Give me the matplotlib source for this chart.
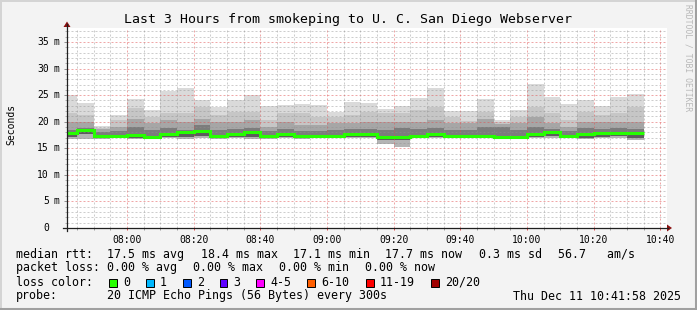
import matplotlib
matplotlib.use("Agg")
import matplotlib.pyplot as plt
from matplotlib.patches import Rectangle, Polygon
from matplotlib.lines import Line2D
from matplotlib.transforms import blended_transform_factory

W, H = 697, 310
MONO = "DejaVu Sans Mono"

title = "Last 3 Hours from smokeping to U. C. San Diego Webserver"

# ---------------- data ----------------
view_start = 7 * 60 + 42          # 07:42 (minutes since midnight)
view_end = 10 * 60 + 42           # 10:42
first_bar_start = 7 * 60 + 40     # 07:40
step_min = 5                      # 300 s per sample

ping_max = [25.0, 23.6, 19.2, 21.3, 24.3, 22.2, 25.8, 26.4, 24.1, 22.8, 24.1, 25.0,
            23.0, 23.1, 23.3, 23.1, 21.9, 23.8, 23.6, 22.3, 23.0, 24.4, 26.4, 22.0,
            22.1, 24.3, 20.4, 22.2, 27.1, 24.7, 23.3, 24.0, 23.0, 24.7, 25.2]
ping_q90 = [21.6, 21.2, 18.9, 20.3, 22.5, 20.9, 21.6, 21.6, 22.8, 21.3, 21.9, 21.9,
            20.3, 21.6, 21.6, 20.9, 20.9, 21.3, 21.9, 21.6, 21.6, 22.2, 22.8, 20.9,
            20.1, 21.9, 20.0, 20.9, 22.8, 21.6, 20.3, 21.9, 21.3, 21.6, 22.8]
ping_q75 = [20.0, 20.0, 18.6, 19.1, 20.6, 19.7, 20.3, 20.0, 20.6, 20.0, 20.0, 20.3,
            19.1, 20.0, 19.4, 19.4, 19.7, 19.7, 20.0, 20.0, 20.0, 20.0, 20.3, 19.7,
            19.7, 20.6, 19.6, 19.7, 20.9, 19.7, 19.1, 20.0, 20.0, 20.0, 20.0]
ping_q60 = [18.4, 18.8, 18.0, 18.3, 19.1, 18.4, 18.8, 18.4, 19.4, 18.5, 18.6, 18.8,
            18.2, 18.7, 18.3, 18.3, 18.4, 18.6, 18.6, 18.4, 18.8, 18.6, 18.8, 18.4,
            18.4, 19.1, 19.0, 18.4, 19.1, 18.6, 18.2, 18.8, 18.6, 18.8, 18.6]
median = [17.8, 18.4, 17.3, 17.3, 17.5, 17.2, 17.7, 18.0, 18.25, 17.3, 17.7, 18.0,
          17.3, 17.7, 17.3, 17.3, 17.3, 17.7, 17.7, 17.2, 17.2, 17.3, 17.6, 17.3,
          17.3, 17.3, 17.2, 17.2, 17.6, 18.0, 17.4, 17.6, 17.9, 17.9, 17.8]
ping_q25 = [17.2, 17.6, 17.0, 17.0, 17.0, 16.9, 17.1, 17.1, 17.3, 16.9, 17.1, 17.2,
            16.9, 17.1, 16.9, 17.0, 17.0, 17.2, 17.1, 16.6, 16.5, 17.0, 17.1, 17.0,
            17.0, 17.0, 17.0, 17.0, 17.1, 17.3, 17.0, 17.0, 17.2, 17.3, 16.9]
ping_min = [16.7, 16.8, 16.8, 16.9, 16.7, 16.8, 16.9, 16.7, 17.0, 16.7, 16.9, 16.7,
            16.7, 16.9, 16.7, 16.9, 16.9, 17.0, 16.9, 15.9, 15.3, 16.9, 16.9, 16.9,
            16.9, 16.9, 16.9, 16.9, 16.9, 17.0, 16.9, 16.7, 16.9, 17.0, 16.6]

y_tick_vals = [0, 5, 10, 15, 20, 25, 30, 35]
y_tick_labels = ["0", "5 m", "10 m", "15 m", "20 m", "25 m", "30 m", "35 m"]
x_tick_vals = [480, 500, 520, 540, 560, 580, 600, 620, 640]
x_tick_labels = ["08:00", "08:20", "08:40", "09:00", "09:20", "09:40", "10:00", "10:20", "10:40"]

row_rtt = [("median rtt:", 16), ("17.5 ms avg", 107), ("18.4 ms max", 201),
           ("17.1 ms min", 293), ("17.7 ms now", 385), ("0.3 ms sd", 479),
           ("56.7   am/s", 558)]
row_loss = [("packet loss:", 16), ("0.00 % avg", 107), ("0.00 % max", 193),
            ("0.00 % min", 279), ("0.00 % now", 365)]
loss_labels = ["0", "1", "2", "3", "4-5", "6-10", "11-19", "20/20"]
loss_colors = ["#26ff00", "#00b8ff", "#0059ff", "#5e00ff", "#ff00ff", "#ff5e00", "#ff0000", "#a10000"]
loss_box_x = [109, 146, 183, 219.5, 256, 307, 366, 431]
probe_text = "20 ICMP Echo Pings (56 Bytes) every 300s"
date_text = "Thu Dec 11 10:41:58 2025"

# ---------------- figure ----------------
fig = plt.figure(figsize=(W / 100, H / 100), dpi=100)
fig.patch.set_facecolor("#f3f3f3")

def fx(x):
    return x / W

def fy(y):
    return 1 - y / H

# 3D border
fig.add_artist(Line2D([0, 1], [fy(0.5), fy(0.5)], transform=fig.transFigure, color="#d4d4d4", lw=1.4))
fig.add_artist(Line2D([fx(0.5), fx(0.5)], [0, 1], transform=fig.transFigure, color="#d4d4d4", lw=1.4))
fig.add_artist(Line2D([0, 1], [fy(309), fy(309)], transform=fig.transFigure, color="#a0a0a0", lw=2.2))
fig.add_artist(Line2D([fx(696), fx(696)], [0, 1], transform=fig.transFigure, color="#a0a0a0", lw=2.2))

ax = fig.add_axes([fx(67), fy(228), 600 / W, 200 / H])
ax.set_facecolor("white")
ax.set_xlim(view_start, view_end)
ax.set_ylim(0, 200 / 5.314)
for s in ax.spines.values():
    s.set_visible(False)

n = len(median)
starts = [first_bar_start + step_min * i for i in range(n)]
edges = starts + [starts[-1] + step_min]

bands = [
    (ping_min, ping_q25, "#b4b4b4"),
    (ping_q25, median, "#5c5c5c"),
    (median, ping_q60, "#7c7c7c"),
    (ping_q60, ping_q75, "#a6a6a6"),
    (ping_q75, ping_q90, "#c6c6c6"),
    (ping_q90, ping_max, "#dadada"),
]
for lo, hi, col in bands:
    ax.bar(starts, [h - l for l, h in zip(lo, hi)], bottom=lo, width=step_min,
           align="edge", color=col, linewidth=0, zorder=2)

ax.stairs(median, edges, baseline=None, color="#26ff00", linewidth=2.2, zorder=4)

# grid
plt.rcParams["lines.scale_dashes"] = False
ax.set_yticks(y_tick_vals)
ax.set_yticks([v for v in range(0, 38) if v % 5 != 0], minor=True)
ax.set_xticks(x_tick_vals)
ax.set_xticks([m for m in range(465, 642, 5) if m % 20 != 0], minor=True)
ax.set_axisbelow(False)
ax.grid(which="minor", color="#909090", alpha=0.45, linewidth=0.72, linestyle=(0, (1.44, 1.44)), zorder=3)
ax.grid(which="major", color="#e05050", alpha=0.5, linewidth=0.72, linestyle=(0, (1.44, 1.44)), zorder=3)

ax.set_xticklabels(x_tick_labels, family=MONO, fontsize=7)
ax.set_yticklabels([])
ax.tick_params(axis="x", which="major", length=1.6, width=0.72, color="#e05050", pad=3.2)
ax.tick_params(axis="x", which="minor", length=1.6, width=0.72, color="#a0a0a0")
ax.tick_params(axis="y", which="major", length=2.2, width=0.72, color="#909090")
ax.tick_params(axis="y", which="minor", length=1.5, width=0.72, color="#b0b0b0")

# y labels: number right aligned, unit separately (rrdtool style)
ytrans = blended_transform_factory(fig.transFigure, ax.transData)
for v, lab in zip(y_tick_vals, y_tick_labels):
    parts = lab.split(" ")
    ax.text(fx(48.8), v, parts[0], transform=ytrans, ha="right", va="center",
            family=MONO, fontsize=7, clip_on=False)
    if len(parts) > 1:
        ax.text(fx(54), v, parts[1], transform=ytrans, ha="left", va="center",
                family=MONO, fontsize=7, clip_on=False)

# axis lines with arrows
fig.add_artist(Line2D([fx(62.5), fx(668)], [fy(228), fy(228)], transform=fig.transFigure, color="#202020", lw=0.9))
fig.add_artist(Line2D([fx(67), fx(67)], [fy(231), fy(24)], transform=fig.transFigure, color="#202020", lw=0.9))
fig.add_artist(Polygon([[fx(667), fy(224.5)], [fx(667), fy(231.5)], [fx(672), fy(228)]],
                       closed=True, transform=fig.transFigure, color="#8b1010", lw=0))
fig.add_artist(Polygon([[fx(63.5), fy(27)], [fx(70.5), fy(27)], [fx(67), fy(21.5)]],
                       closed=True, transform=fig.transFigure, color="#8b1010", lw=0))

# titles
fig.text(fx(348.5), fy(19), title, ha="center", va="center", family=MONO, fontsize=9.5)
fig.text(fx(11), fy(124), "Seconds", ha="center", va="center", rotation=90, family=MONO, fontsize=7)
fig.text(fx(688), fy(4), "RRDTOOL / TOBI OETIKER", ha="center", va="top", rotation=270,
         family=MONO, fontsize=5.8, color="#b8b8b8")

# legend rows
FS = 8.4
for txt, x in row_rtt:
    fig.text(fx(x), fy(254.3), txt, ha="left", va="center", family=MONO, fontsize=FS)
for txt, x in row_loss:
    fig.text(fx(x), fy(267.7), txt, ha="left", va="center", family=MONO, fontsize=FS)
fig.text(fx(16), fy(282.3), "loss color:", ha="left", va="center", family=MONO, fontsize=FS)
for lab, col, bx in zip(loss_labels, loss_colors, loss_box_x):
    fig.add_artist(Rectangle((fx(bx), fy(286.5)), 7.5 / W, 8 / H, transform=fig.transFigure,
                             facecolor=col, edgecolor="black", lw=0.7))
    fig.text(fx(bx + 14), fy(282.3), lab, ha="left", va="center", family=MONO, fontsize=FS)
fig.text(fx(16), fy(296), "probe:", ha="left", va="center", family=MONO, fontsize=FS)
fig.text(fx(107), fy(296), probe_text, ha="left", va="center", family=MONO, fontsize=FS)
fig.text(fx(513), fy(296), date_text, ha="left", va="center", family=MONO, fontsize=FS)

fig.savefig("out.png", dpi=100, facecolor=fig.get_facecolor())
